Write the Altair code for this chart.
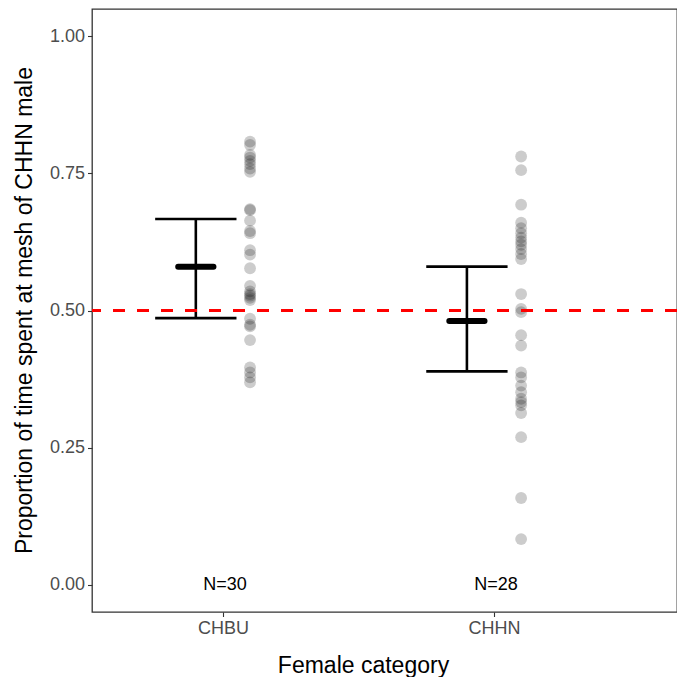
import json
import altair as alt
import pandas as pd

# ---------------- data ----------------
categories = ["CHBU", "CHHN"]
n_labels = ["N=30", "N=28"]
means = [0.580, 0.481]
lower = [0.486, 0.389]
upper = [0.667, 0.580]
ref_line = 0.5

chbu_vals = [0.808, 0.802, 0.784, 0.779, 0.773, 0.767, 0.759, 0.753,
             0.685, 0.683, 0.664, 0.645, 0.641,
             0.610, 0.602, 0.577,
             0.545, 0.535, 0.530, 0.527, 0.523, 0.519,
             0.485, 0.474, 0.471, 0.446,
             0.396, 0.387, 0.378, 0.369]
chhn_vals = [0.781, 0.756, 0.693,
             0.660, 0.650, 0.641, 0.633, 0.626, 0.620, 0.612, 0.603, 0.594,
             0.530, 0.503, 0.497,
             0.455, 0.436,
             0.387, 0.378, 0.363, 0.351, 0.339, 0.333, 0.327, 0.313,
             0.269, 0.158, 0.083]

y_ticks = [0, 0.25, 0.5, 0.75, 1.0]

points_df = pd.DataFrame({
    "idx": [1] * len(chbu_vals) + [2] * len(chhn_vals),
    "value": chbu_vals + chhn_vals,
})
summ_df = pd.DataFrame({
    "idx": [1, 2],
    "category": categories,
    "mean": means,
    "lower": lower,
    "upper": upper,
    "label": n_labels,
})

FONT = "Liberation Sans"
xscale = alt.Scale(domain=[0.517, 2.675], nice=False, zero=False)
yscale = alt.Scale(domain=[-0.05, 1.05], nice=False, zero=False)

x_axis = alt.Axis(values=[1, 2],
                  labelExpr=f"{json.dumps(categories)}[round(datum.value) - 1]",
                  title="Female category", titleX=271, titleY=60,
                  titleBaseline="alphabetic", titleAlign="center")
y_axis = alt.Axis(values=y_ticks, format=".2f",
                  title="Proportion of time spent at mesh of CHHN male",
                  titleX=-61, titleY=301, titleAngle=270,
                  titleBaseline="alphabetic", titleAlign="center")

summ = alt.Chart(summ_df).transform_calculate(
    ex="datum.idx - 0.1",
    xl="datum.idx - 0.25",
    xr="datum.idx + 0.05",
    ml="datum.idx - 0.165",
    mr="datum.idx - 0.035",
    ty="0",
)

vbar = summ.mark_rule(color="black", strokeWidth=2.6).encode(
    x=alt.X("ex:Q", scale=xscale, axis=x_axis),
    y=alt.Y("lower:Q", scale=yscale, axis=y_axis),
    y2="upper:Q",
)

caps = summ.transform_fold(["lower", "upper"], as_=["end", "yv"]).mark_rule(
    color="black", strokeWidth=2.6).encode(
    x=alt.X("xl:Q", scale=xscale, axis=x_axis),
    x2="xr:Q",
    y=alt.Y("yv:Q", scale=yscale, axis=y_axis),
)

mean_bar = summ.mark_rule(color="black", strokeWidth=6, strokeCap="round").encode(
    x=alt.X("ml:Q", scale=xscale, axis=x_axis),
    x2="mr:Q",
    y=alt.Y("mean:Q", scale=yscale, axis=y_axis),
)

pts = alt.Chart(points_df).transform_calculate(
    px="datum.idx + 0.1"
).mark_circle(size=140, color="black", opacity=0.2).encode(
    x=alt.X("px:Q", scale=xscale, axis=x_axis),
    y=alt.Y("value:Q", scale=yscale, axis=y_axis),
)

ntext = summ.mark_text(font=FONT, fontSize=18, color="black",
                       baseline="middle", align="center", dx=2).encode(
    x=alt.X("idx:Q", scale=xscale, axis=x_axis),
    y=alt.Y("ty:Q", scale=yscale, axis=y_axis),
    text="label:N",
)

hline = alt.Chart(pd.DataFrame({"y": [ref_line]})).mark_rule(
    color="#FF0000", strokeDash=[12, 12], strokeWidth=3).encode(
    y=alt.Y("y:Q", scale=yscale, axis=y_axis),
)

chart = alt.layer(pts, vbar, caps, mean_bar, ntext, hline).properties(
    width=585, height=603,
    padding={"left": 84, "top": 1, "right": 0, "bottom": 65},
    autosize=alt.AutoSizeParams(type="none"),
    background="white",
).configure_view(
    stroke="#333333", strokeWidth=1.3
).configure_axis(
    grid=False, domain=False, tickColor="#333333", tickWidth=1.1, tickSize=4.5,
    labelColor="#4D4D4D", labelFontSize=18, labelFont=FONT, labelPadding=3,
    titleFont=FONT, titleFontSize=23, titleFontWeight="normal", titleColor="black",
)

chart.save("out.html", embed_options={"renderer": "svg", "actions": False})
